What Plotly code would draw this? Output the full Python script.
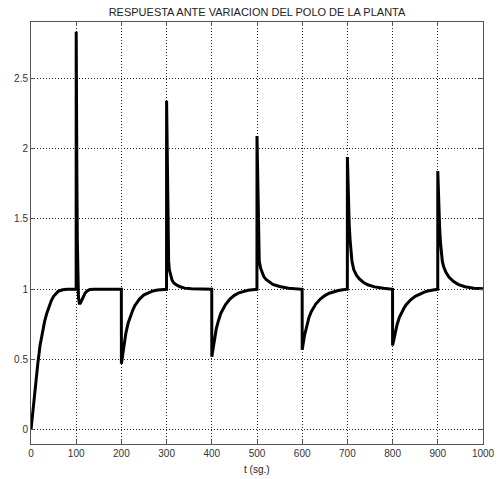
import plotly.graph_objects as go

# ---- data ----
rise_t = [0, 5, 10, 15, 20, 25, 30, 35, 40, 45, 50, 55, 60, 70, 80, 99.9]
rise_y = [0, 0.17, 0.33, 0.47, 0.60, 0.69, 0.77, 0.83, 0.88, 0.92, 0.95, 0.97, 0.985, 0.996, 1.0, 1.0]

spike1_t = [100, 100.8, 101.5, 102.5, 103.5, 105, 107, 109, 112, 116, 120, 125, 130, 140, 199.9]
spike1_y = [2.83, 2.3, 1.8, 1.35, 1.08, 0.94, 0.90, 0.90, 0.92, 0.95, 0.975, 0.99, 0.998, 1.0, 1.0]

drop1_t = [200, 205, 210, 215, 220, 225, 230, 240, 250, 260, 270, 280, 290, 299.9]
drop1_y = [0.47, 0.60, 0.69, 0.76, 0.81, 0.85, 0.885, 0.93, 0.96, 0.977, 0.988, 0.995, 0.998, 1.0]

spike2_t = [300, 301, 302, 303, 304.5, 306, 309, 312, 316, 322, 330, 340, 355, 399.9]
spike2_y = [2.34, 1.95, 1.6, 1.38, 1.2, 1.14, 1.09, 1.065, 1.045, 1.03, 1.018, 1.008, 1.003, 1.0]

drop2_t = [400, 405, 410, 415, 420, 425, 430, 440, 450, 460, 470, 480, 490, 499.9]
drop2_y = [0.52, 0.64, 0.72, 0.78, 0.83, 0.86, 0.89, 0.93, 0.957, 0.975, 0.986, 0.993, 0.997, 1.0]

spike3_t = [500, 501, 502, 503, 505, 508, 511, 515, 520, 526, 535, 550, 570, 599.9]
spike3_y = [2.09, 1.85, 1.55, 1.3, 1.2, 1.15, 1.12, 1.09, 1.07, 1.055, 1.035, 1.02, 1.008, 1.0]

drop3_t = [600, 605, 610, 615, 620, 625, 630, 640, 650, 660, 670, 680, 690, 699.9]
drop3_y = [0.57, 0.67, 0.74, 0.80, 0.84, 0.87, 0.895, 0.93, 0.955, 0.972, 0.984, 0.991, 0.996, 1.0]

spike4_t = [700, 701, 702.5, 704, 706, 708, 710, 714, 720, 726, 735, 745, 760, 780, 799.9]
spike4_y = [1.94, 1.8, 1.6, 1.46, 1.35, 1.26, 1.2, 1.14, 1.1, 1.075, 1.05, 1.032, 1.017, 1.007, 1.0]

drop4_t = [800, 805, 810, 815, 820, 825, 830, 840, 850, 860, 870, 880, 890, 899.9]
drop4_y = [0.60, 0.69, 0.75, 0.80, 0.835, 0.865, 0.89, 0.925, 0.95, 0.968, 0.98, 0.989, 0.995, 1.0]

spike5_t = [900, 901, 902.5, 904, 906, 908, 910, 913, 918, 925, 935, 945, 960, 980, 1000]
spike5_y = [1.84, 1.7, 1.55, 1.44, 1.33, 1.25, 1.2, 1.16, 1.12, 1.085, 1.055, 1.035, 1.018, 1.008, 1.003]

x_ticks = [0, 100, 200, 300, 400, 500, 600, 700, 800, 900, 1000]
y_ticks = [0, 0.5, 1, 1.5, 2, 2.5]
y_tick_labels = ["0", "0.5", "1", "1.5", "2", "2.5"]

title_text = "RESPUESTA ANTE VARIACION DEL POLO DE LA PLANTA"
xlabel_text = "t (sg.)"

t = (rise_t + spike1_t + drop1_t + spike2_t + drop2_t + spike3_t + drop3_t
     + spike4_t + drop4_t + spike5_t)
y = (rise_y + spike1_y + drop1_y + spike2_y + drop2_y + spike3_y + drop3_y
     + spike4_y + drop4_y + spike5_y)

FONT = "Liberation Sans, Arial, Helvetica, sans-serif"

fig = go.Figure()
fig.add_trace(go.Scatter(x=t, y=y, mode="lines",
                         line=dict(color="black", width=3),
                         hoverinfo="skip", showlegend=False))

axis_common = dict(
    automargin=False,
    showline=True, linecolor="#555555", linewidth=1, mirror="ticks",
    ticks="inside", ticklen=4, tickcolor="#555555",
    showgrid=True, gridcolor="#222222", gridwidth=1, griddash="1px,2px",
    zeroline=False,
    tickfont=dict(family=FONT, size=10, color="#333333"),
)

fig.update_layout(
    width=499, height=479,
    margin=dict(l=31, r=16, t=22, b=35, autoexpand=False),
    paper_bgcolor="white", plot_bgcolor="white",
    title=dict(text=title_text, x=0.515, xanchor="center",
               y=1 - 12 / 479, yref="container", yanchor="middle",
               font=dict(family=FONT, size=11, color="#222222")),
    xaxis=dict(range=[0, 1000], tickvals=x_ticks, **axis_common),
    yaxis=dict(range=[-0.1, 2.9], tickvals=y_ticks, ticktext=y_tick_labels,
               **axis_common),
    annotations=[dict(text=xlabel_text, xref="paper", yref="paper",
                      x=0.5, y=0, yshift=-25, xanchor="center", yanchor="middle",
                      showarrow=False,
                      font=dict(family=FONT, size=10, color="#222222"))],
)

fig.write_html("out.html")
